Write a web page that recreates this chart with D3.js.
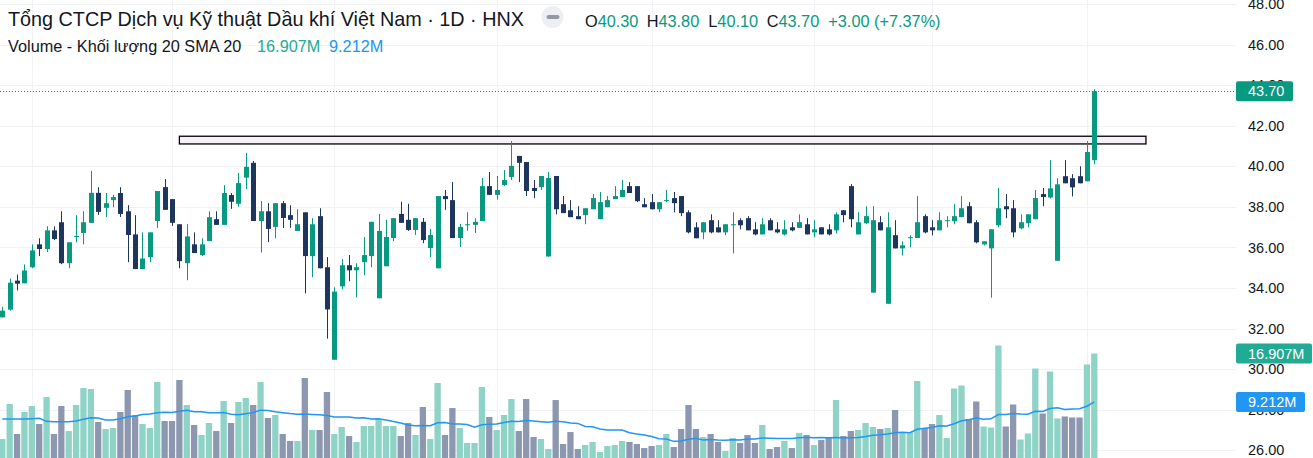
<!DOCTYPE html>
<html>
<head>
<meta charset="utf-8">
<script src="https://cdn.jsdelivr.net/npm/d3@7/dist/d3.min.js"></script>
<style>
  html, body { margin: 0; padding: 0; background: #fff; }
  svg { display: block; }
</style>
</head>
<body>
<div class="chart"></div>
<script>
// daily candles, oldest first (prices in thousand VND)
const opens = [32.55,32.93,34.36,34.23,35.02,36.15,35.92,36.84,37.24,35.22,36.53,36.71,37.21,38.69,37.95,38.33,38.68,37.78,36.64,34.93,
  35.52,37.30,38.97,38.38,37.14,35.22,36.15,35.62,36.31,37.39,37.11,38.58,38.15,39.44,40.17,37.30,37.78,37.01,38.18,37.59,
  36.81,37.73,35.57,37.54,35.02,30.46,34.08,35.12,34.87,35.27,35.57,33.49,35.07,36.46,37.65,37.36,36.86,37.26,35.97,34.97,
  38.53,38.33,36.46,37.11,37.11,37.30,39.02,38.59,39.07,39.47,40.51,40.21,38.93,38.97,35.55,39.52,38.13,37.83,37.54,37.59,
  37.88,37.39,37.98,38.38,38.48,39.02,39.02,38.13,38.23,37.88,38.28,38.43,38.53,37.73,36.99,36.74,37.34,36.99,36.74,37.11,
  37.34,37.44,36.89,36.64,37.34,36.89,36.64,36.99,36.96,37.14,36.74,36.99,36.89,36.84,37.83,39.02,36.64,37.19,33.77,37.24,
  33.22,36.60,35.95,36.46,36.46,37.54,36.99,36.84,37.32,37.29,37.49,38.03,37.24,36.15,35.95,37.09,38.03,37.93,36.94,37.19,
  37.39,38.63,38.46,35.34,39.51,39.41,39.51,39.26,40.30];
const highs = [33.07,34.46,34.66,35.16,36.15,36.45,37.04,37.04,37.78,36.25,37.59,37.78,39.77,38.97,38.68,38.59,38.97,38.08,37.59,36.74,
  36.74,38.78,39.37,38.38,37.14,37.14,36.74,36.45,37.78,37.78,39.07,38.68,39.67,40.66,40.26,38.28,38.18,38.18,38.28,38.08,
  37.88,37.73,37.44,37.93,35.52,34.03,35.42,35.62,35.22,36.51,37.26,37.65,37.36,37.44,38.25,38.15,37.44,37.45,36.91,38.53,
  38.83,39.22,37.16,37.73,37.44,39.42,39.72,39.52,39.82,41.24,40.51,40.21,39.32,39.52,39.72,39.52,38.53,38.33,38.03,37.93,
  38.63,38.73,38.53,39.02,39.32,39.22,39.02,38.43,38.63,38.23,38.83,38.73,38.53,37.83,37.24,37.24,37.63,37.34,37.14,37.73,
  37.44,37.54,37.24,37.44,37.44,37.24,37.34,37.24,37.63,37.44,37.34,36.99,37.14,37.73,37.83,39.12,37.73,38.03,38.03,37.54,
  37.73,37.34,36.30,36.60,38.53,37.63,37.34,37.73,37.54,38.13,38.53,38.23,37.34,36.30,36.89,38.93,38.63,38.33,37.63,37.63,
  38.83,38.93,40.30,39.41,40.30,39.61,40.00,41.24,43.80];
const lows = [32.54,32.88,33.88,34.23,34.97,35.57,35.77,36.36,35.17,34.97,36.25,36.15,37.21,37.60,37.49,37.98,37.50,35.27,34.93,34.93,
  35.27,36.96,37.85,37.06,34.97,34.38,35.72,35.57,36.31,37.11,37.11,37.90,38.00,38.88,37.30,35.75,36.26,36.45,36.96,36.96,
  36.81,33.73,34.53,34.97,31.50,30.46,33.93,34.33,33.54,34.63,35.02,33.49,35.07,36.31,37.21,36.81,36.61,36.21,35.52,34.97,
  37.85,36.46,36.02,36.81,36.71,37.30,38.59,38.35,39.02,39.32,39.22,38.53,38.43,38.83,35.55,37.63,37.69,37.49,37.39,37.14,
  37.88,37.39,37.98,38.38,38.48,38.68,38.23,37.98,37.88,37.73,38.23,37.73,37.54,36.69,36.45,36.40,36.69,36.74,36.60,35.70,
  36.89,36.84,36.59,36.64,36.84,36.69,36.59,36.79,36.96,36.64,36.50,36.64,36.59,36.69,37.24,36.99,36.64,37.14,33.77,36.84,
  33.22,35.95,35.60,36.00,36.46,36.69,36.59,36.84,36.99,37.14,37.49,37.19,36.20,36.10,33.52,36.99,37.44,36.50,36.89,36.99,
  37.39,38.03,38.41,35.34,39.16,38.51,39.16,39.26,40.10];
const closes = [32.88,34.26,34.21,34.86,35.85,35.92,36.84,36.41,35.22,36.25,36.56,37.24,38.69,37.75,38.18,38.48,37.65,36.61,34.93,35.45,
  36.74,38.78,37.85,37.21,35.32,36.54,35.72,36.15,37.49,37.11,38.68,38.25,39.17,39.97,37.30,37.78,36.91,38.18,37.45,37.36,
  37.14,35.57,37.14,34.97,32.94,33.82,35.12,34.87,35.02,35.62,37.26,36.81,36.51,37.44,37.21,36.86,37.44,36.36,36.61,38.53,
  38.38,36.46,37.01,37.14,37.26,39.02,38.59,38.83,39.32,40.02,40.17,38.78,38.78,39.52,39.42,37.88,37.69,37.49,37.39,37.93,
  38.43,38.23,38.33,38.53,38.83,38.68,38.28,37.98,37.88,38.23,38.33,38.18,37.69,36.74,36.45,37.24,36.74,36.74,37.14,37.14,
  37.09,36.84,36.64,37.14,36.84,36.74,36.89,36.84,37.24,36.64,36.89,36.64,36.64,37.63,37.59,37.39,37.24,37.54,37.34,36.84,
  36.99,35.95,36.10,36.50,37.24,36.74,36.84,37.34,37.34,37.54,37.93,37.19,36.25,36.30,36.89,37.93,37.88,36.74,37.24,37.63,
  38.43,38.48,38.91,39.11,39.16,38.96,39.16,40.70,43.70];
// volume in millions of shares
const volumes = [3.33,8.89,4.13,7.62,8.57,5.71,10.0,4.13,8.57,4.60,8.73,11.43,11.27,6.03,4.92,5.08,7.62,11.11,7.14,5.71,
  5.08,12.38,6.19,6.19,12.70,8.73,5.56,3.97,5.87,4.60,9.37,5.87,9.21,9.84,8.73,12.38,6.67,7.14,4.13,3.02,
  3.02,13.02,4.76,4.76,10.79,4.13,5.24,3.81,2.86,5.40,5.40,6.51,5.40,5.40,3.81,5.87,3.97,8.41,3.33,12.22,
  3.97,8.25,5.08,2.70,2.70,11.59,6.83,4.76,7.14,9.68,4.60,9.68,3.65,3.33,1.75,9.52,2.54,4.44,1.75,2.38,
  2.86,1.27,2.22,2.38,3.02,2.86,2.54,1.90,2.22,2.38,4.13,2.06,4.92,8.73,4.92,3.65,4.13,2.86,1.43,3.49,
  2.70,3.97,2.70,5.56,1.75,2.06,3.02,1.90,4.29,3.97,2.38,3.17,3.65,9.52,3.81,4.60,4.76,5.87,5.24,4.92,
  5.08,7.94,4.44,4.44,12.54,5.08,5.71,7.14,3.49,11.35,11.83,6.51,9.29,5.32,5.16,18.18,5.32,8.81,3.25,4.21,
  14.52,7.38,14.05,6.59,6.91,6.75,6.75,15.16,16.907];
// SMA 20 of volume for the first bars (window reaches before the visible range)
const smaHead = [6.51,6.51,6.51,6.51,6.56,6.61,6.14,6.08,6.08,6.08,6.19,6.46,6.72,6.67,6.35,6.35,6.56,6.88,6.98];
// first bar of each month (vertical grid lines)
const monthStarts = [4, 23, 45, 67, 88, 110, 126, 147];
const priceTicks = [26, 28, 30, 32, 34, 36, 38, 40, 42, 44, 46, 48];
// drawn rectangle zone: bar index range and price range
const zoneBars = [24, 155];
const zonePrices = [41.10, 41.48];

const W = 1313, H = 458;
const plotRight = 1236;
const upColor = "#089981", downColor = "#1e355e";
const upVol = "#8fd3c7", downVol = "#8d98b0";
const textColor = "#131722";
const font = "'Liberation Sans', Arial, sans-serif";

const svg = d3.select(".chart").append("svg")
  .attr("width", W).attr("height", H)
  .style("background", "#fff");

const x = d3.scaleLinear().domain([0, closes.length - 1]).range([2.3, 1094.3]);
const y = d3.scaleLinear().domain([26, 48]).range([450.2, 4]);
const yVol = d3.scaleLinear().domain([0, 16.907]).range([460, 353.5]);

const bars = closes.map((c, i) => ({
  i, o: opens[i], h: highs[i], l: lows[i], c, v: volumes[i], up: c >= opens[i]
}));

// sma 20
const sma = bars.map((d, i) => {
  if (i < 19) return smaHead[i];
  return d3.mean(volumes.slice(i - 19, i + 1));
});

// grid
const grid = svg.append("g").attr("stroke", "#f1f2f5").attr("stroke-width", 1);
grid.selectAll(".hgrid").data(priceTicks).enter().append("line")
  .attr("x1", 0).attr("x2", plotRight)
  .attr("y1", d => Math.round(y(d)) + 0.5).attr("y2", d => Math.round(y(d)) + 0.5);
grid.selectAll(".vgrid").data(monthStarts).enter().append("line")
  .attr("x1", d => Math.round(x(d)) + 0.5).attr("x2", d => Math.round(x(d)) + 0.5)
  .attr("y1", 0).attr("y2", H);

// volume bars
const bw = 6.3;
svg.append("g").selectAll("rect").data(bars).enter().append("rect")
  .attr("x", d => x(d.i) - bw / 2)
  .attr("width", bw)
  .attr("y", d => yVol(d.v))
  .attr("height", d => yVol(0) - yVol(d.v))
  .attr("fill", d => d.up ? upVol : downVol);

// volume sma
const smaLine = d3.line().x((d, i) => x(i)).y(d => yVol(d));
svg.append("path").datum(sma)
  .attr("fill", "none").attr("stroke", "#2196f3").attr("stroke-width", 1.5)
  .attr("d", smaLine);

// zone rectangle
svg.append("rect")
  .attr("x", x(zoneBars[0])).attr("width", x(zoneBars[1]) - x(zoneBars[0]))
  .attr("y", y(zonePrices[1])).attr("height", y(zonePrices[0]) - y(zonePrices[1]))
  .attr("fill", "#f6f0f8").attr("stroke", "#000").attr("stroke-width", 1.3);

// candles
const candles = svg.append("g").selectAll("g").data(bars).enter().append("g")
  .attr("fill", d => d.up ? upColor : downColor)
  .attr("stroke", d => d.up ? upColor : downColor);
candles.append("line")
  .attr("x1", d => Math.round(x(d.i)) + 0.5).attr("x2", d => Math.round(x(d.i)) + 0.5)
  .attr("y1", d => y(d.h)).attr("y2", d => y(d.l))
  .attr("stroke-width", 1);
candles.append("rect")
  .attr("stroke", "none")
  .attr("x", d => Math.round(x(d.i)) - 2)
  .attr("width", 5)
  .attr("y", d => y(Math.max(d.o, d.c)))
  .attr("height", d => Math.max(1, Math.abs(y(d.o) - y(d.c))));

// last price line
const last = bars[bars.length - 1];
svg.append("line")
  .attr("x1", 0).attr("x2", plotRight)
  .attr("y1", Math.round(y(last.c)) + 0.5).attr("y2", Math.round(y(last.c)) + 0.5)
  .attr("stroke", upColor).attr("stroke-width", 1).attr("stroke-dasharray", "1,2");

// price axis
const yAxis = d3.axisRight(y).tickValues(priceTicks).tickFormat(d3.format(".2f")).tickSize(0).tickPadding(12);
const axisG = svg.append("g").attr("transform", `translate(${plotRight},0)`).call(yAxis);
axisG.select(".domain").remove();
axisG.selectAll("text").attr("fill", textColor).attr("font-family", font).attr("font-size", 14.5);

// badges on the price axis
const badges = [
  { label: d3.format(".2f")(last.c), yy: y(last.c), w: 57, color: upColor },
  { label: d3.format(".3f")(last.v) + "M", yy: yVol(last.v), w: 76, color: "#22ab94" },
  { label: d3.format(".3f")(sma[sma.length - 1]) + "M", yy: yVol(sma[sma.length - 1]), w: 69, color: "#2196f3" }
];
const bg = svg.append("g").selectAll("g").data(badges).enter().append("g");
bg.append("rect")
  .attr("x", plotRight).attr("y", d => d.yy - 10).attr("width", d => d.w).attr("height", 20)
  .attr("rx", 2).attr("fill", d => d.color);
bg.append("text")
  .attr("x", plotRight + 12).attr("y", d => d.yy).attr("dy", "0.35em")
  .attr("fill", "#fff").attr("font-family", font).attr("font-size", 14.5)
  .text(d => d.label);

// legend
svg.append("text")
  .attr("x", 8).attr("y", 26)
  .attr("font-family", font).attr("font-size", 19.8).attr("fill", textColor)
  .text("Tổng CTCP Dịch vụ Kỹ thuật Dầu khí Việt Nam · 1D · HNX");

svg.append("circle").attr("cx", 552.5).attr("cy", 17).attr("r", 11).attr("fill", "#eeeff2");
svg.append("line").attr("x1", 548.5).attr("x2", 557.5).attr("y1", 17).attr("y2", 17)
  .attr("stroke", "#9598a1").attr("stroke-width", 4).attr("stroke-linecap", "round");

const prev = closes[closes.length - 2];
const chg = last.c - prev;
const ohlc = [
  { k: "O", v: d3.format(".2f")(last.o), x: 585 },
  { k: "H", v: d3.format(".2f")(last.h), x: 646.7 },
  { k: "L", v: d3.format(".2f")(last.l), x: 708.3 },
  { k: "C", v: d3.format(".2f")(last.c), x: 766.7 },
  { k: "", v: d3.format("+.2f")(chg) + " (" + d3.format("+.2f")(chg / prev * 100) + "%)", x: 828.3 }
];
const ot = svg.append("g").attr("font-family", font).attr("font-size", 16.3);
ohlc.forEach(d => {
  const t = ot.append("text").attr("x", d.x).attr("y", 26.5);
  if (d.k) t.append("tspan").attr("fill", textColor).text(d.k);
  t.append("tspan").attr("fill", upColor).text(d.v);
});

const vt = svg.append("text").attr("x", 8).attr("y", 52)
  .attr("font-family", font).attr("font-size", 16.3);
vt.append("tspan").attr("fill", textColor).text("Volume - Khối lượng 20 SMA 20");
vt.append("tspan").attr("x", 257).attr("fill", "#22ab94").text(d3.format(".3f")(last.v) + "M");
vt.append("tspan").attr("x", 329).attr("fill", "#2196f3").text(d3.format(".3f")(sma[sma.length - 1]) + "M");
</script>
</body>
</html>
